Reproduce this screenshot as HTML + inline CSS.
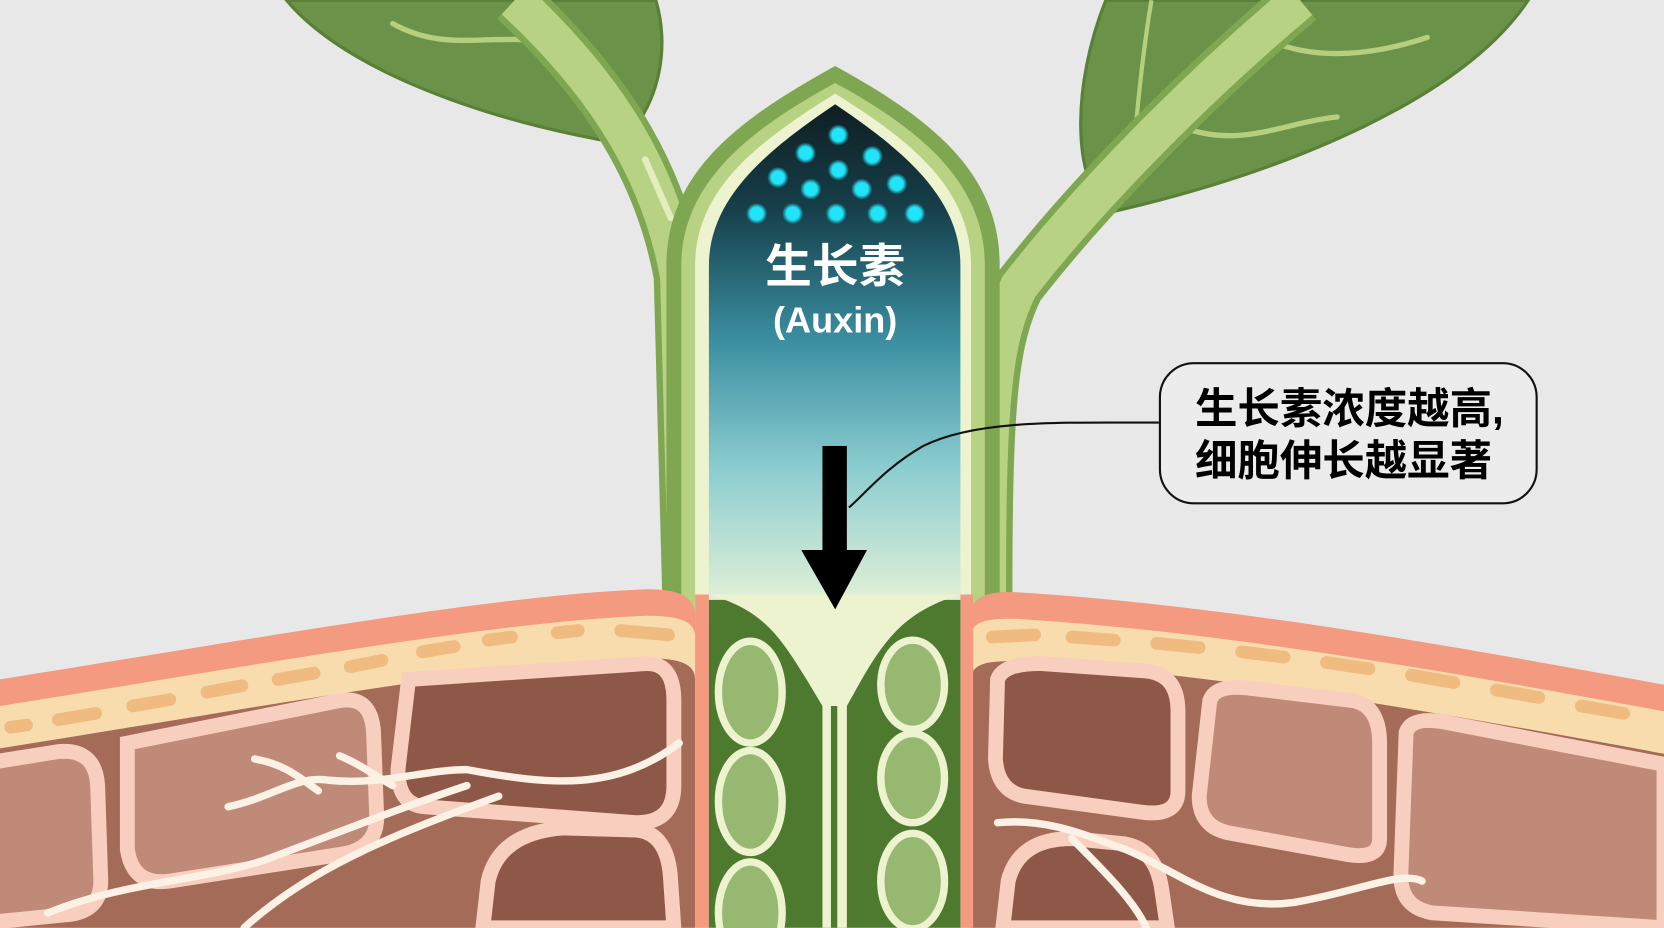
<!DOCTYPE html>
<html><head><meta charset="utf-8"><style>
html,body{margin:0;padding:0;background:#e8e8e8;}
svg{display:block;}
</style></head><body>
<svg width="1664" height="928" viewBox="0 0 1568 874" xmlns="http://www.w3.org/2000/svg">
<defs>
<linearGradient id="g1" x1="0" y1="98" x2="0" y2="590" gradientUnits="userSpaceOnUse">
<stop offset="0" stop-color="#0f1e22"/>
<stop offset="0.2" stop-color="#163f4a"/>
<stop offset="0.45" stop-color="#3a8ea0"/>
<stop offset="0.7" stop-color="#8ccdd0"/>
<stop offset="1" stop-color="#f2f7d8"/>
</linearGradient>
<radialGradient id="dot"><stop offset="0.6" stop-color="#22e4f8"/><stop offset="1" stop-color="#22e4f8" stop-opacity="0"/></radialGradient>
</defs>
<rect width="1568" height="874" fill="#e8e8e8"/>

<!-- left leaf -->
<path d="M270,0 C320,60 440,110 585,135 C625,95 630,40 618,0 Z" fill="#6a9248" stroke="#5a8038" stroke-width="3"/>
<path d="M370,22 C420,50 460,30 520,40" stroke="#b5cf7d" stroke-width="5" fill="none" stroke-linecap="round"/>
<!-- right leaf -->
<path d="M1042,0 C1010,80 1010,170 1045,200 C1220,160 1380,90 1440,0 Z" fill="#6a9248" stroke="#5a8038" stroke-width="3"/>
<path d="M1190,35 C1240,60 1300,50 1345,35" stroke="#b5cf7d" stroke-width="5" fill="none" stroke-linecap="round"/>
<path d="M1115,120 C1170,140 1210,115 1260,110" stroke="#b5cf7d" stroke-width="5" fill="none" stroke-linecap="round"/>
<path d="M1085,0 C1075,60 1070,120 1065,180" stroke="#b5cf7d" stroke-width="4" fill="none"/>

<!-- left stem arm -->
<path d="M485,0 C560,70 620,150 640,260 L648,560" stroke="#7fa650" stroke-width="48" fill="none"/>
<path d="M485,0 C560,70 620,150 640,260 L648,560" stroke="#b8d283" stroke-width="36" fill="none"/>
<path d="M608,150 L632,205" stroke="#e3edc0" stroke-width="6" stroke-linecap="round"/>
<!-- right stem arm -->
<path d="M1225,0 C1130,80 1030,180 960,270 C935,320 930,380 930,560" stroke="#7fa650" stroke-width="48" fill="none"/>
<path d="M1225,0 C1130,80 1030,180 960,270 C935,320 930,380 930,560" stroke="#b8d283" stroke-width="36" fill="none"/>

<!-- central shoot -->
<path d="M628,590 L628,250 C628,160 700,110 787,62 C874,110 942,160 942,250 L942,590 Z" fill="#7fa650"/>
<path d="M642,590 L642,250 C642,170 710,120 787,78 C864,120 928,170 928,250 L928,590 Z" fill="#b8d283"/>
<path d="M655,590 L655,250 C655,175 720,130 787,88 C854,130 915,175 915,250 L915,590 Z" fill="#eef3cf"/>
<path d="M668,590 L668,250 C668,185 725,140 787,98 C849,140 905,185 905,250 L905,590 Z" fill="url(#g1)"/>

<!-- dots -->
<g fill="url(#dot)">
<circle cx="790" cy="127" r="10"/>
<circle cx="759" cy="144" r="10"/><circle cx="822" cy="147" r="10"/>
<circle cx="790" cy="160" r="10"/>
<circle cx="733" cy="167" r="10"/><circle cx="764" cy="178" r="10"/><circle cx="812" cy="178" r="10"/><circle cx="845" cy="173" r="10"/>
<circle cx="713" cy="201" r="10"/><circle cx="747" cy="201" r="10"/><circle cx="788" cy="201" r="10"/><circle cx="827" cy="201" r="10"/><circle cx="862" cy="201" r="10"/>
</g>
<text x="787" y="266" text-anchor="middle" font-family="'Liberation Sans','Noto Sans CJK SC',sans-serif" font-weight="bold" font-size="44" fill="#fff">生长素</text>
<text x="787" y="313" text-anchor="middle" font-family="'Liberation Sans','Noto Sans CJK SC',sans-serif" font-weight="bold" font-size="34" fill="#fff">(Auxin)</text>

<!-- soil left -->
<path d="M0,640 C250,600 470,560 610,555 C640,555 655,562 655,580 L655,874 L0,874 Z" fill="#f39a80"/>
<path d="M0,665 C250,625 470,585 610,580 C640,580 655,585 655,600 L655,874 L0,874 Z" fill="#f8dcae"/>
<path d="M0,705 C250,665 470,625 610,620 C640,620 655,625 655,640 L655,874 L0,874 Z" fill="#a46c58"/>
<g stroke="#f0bb80" stroke-width="12" stroke-linecap="round" fill="none">
<path d="M10,685 L25,683"/><path d="M55,678 L90,672"/><path d="M125,665 L160,659"/><path d="M195,652 L228,646"/><path d="M262,640 L296,634"/><path d="M330,628 L360,622"/><path d="M398,614 L428,609"/><path d="M460,603 L482,600"/><path d="M525,596 L545,594"/><path d="M585,594 L630,598"/>
</g>
<!-- soil right -->
<path d="M915,580 C915,562 930,556 960,558 C1150,570 1350,605 1568,645 L1568,874 L915,874 Z" fill="#f39a80"/>
<path d="M915,600 C915,585 930,582 960,583 C1150,595 1350,630 1568,670 L1568,874 L915,874 Z" fill="#f8dcae"/>
<path d="M915,640 C915,625 930,622 960,623 C1150,635 1350,670 1568,710 L1568,874 L915,874 Z" fill="#a46c58"/>
<g stroke="#f0bb80" stroke-width="12" stroke-linecap="round" fill="none">
<path d="M935,600 L975,598"/><path d="M1010,600 L1050,603"/><path d="M1090,606 L1130,610"/><path d="M1170,614 L1210,619"/><path d="M1250,624 L1290,630"/><path d="M1330,636 L1370,643"/><path d="M1410,650 L1450,657"/><path d="M1490,665 L1530,672"/>
</g>

<!-- cells left -->
<g stroke="#f8cfbf" stroke-width="14">
<path d="M-20,720 L55,708 Q90,705 92,740 L95,830 Q95,860 60,862 L-20,870 Z" fill="#c08a78"/>
<path d="M120,700 L320,660 Q350,655 352,690 L355,770 Q355,800 320,805 L160,830 Q125,835 120,800 Z" fill="#c08a78"/>
<path d="M385,640 L610,625 Q635,625 635,660 L635,740 Q635,775 600,775 L400,760 Q375,758 375,725 Z" fill="#8e5848"/>
<path d="M455,874 L460,830 Q470,785 530,780 L600,782 Q630,785 632,830 L635,874 Z" fill="#8e5848"/>
</g>
<!-- cells right -->
<g stroke="#f8cfbf" stroke-width="14">
<path d="M940,640 Q945,625 980,625 L1080,632 Q1110,635 1110,670 L1110,745 Q1110,770 1075,765 L965,750 Q940,745 938,715 Z" fill="#8e5848"/>
<path d="M1140,660 Q1145,645 1175,648 L1275,660 Q1300,665 1300,700 L1300,790 Q1300,810 1270,805 L1160,785 Q1130,780 1130,750 Z" fill="#c08a78"/>
<path d="M1325,690 Q1330,675 1360,680 L1568,720 L1568,874 L1350,860 Q1320,855 1320,825 Z" fill="#c08a78"/>
<path d="M945,874 L950,830 Q960,790 1010,790 L1060,795 Q1090,800 1095,840 L1100,874 Z" fill="#8e5848"/>
</g>
<!-- roots -->
<g stroke="#fbf1e4" stroke-width="7" fill="none" stroke-linecap="round">
<path d="M215,760 C260,750 280,730 310,735 C360,740 400,725 440,725 C520,740 580,745 640,700"/>
<path d="M240,715 C270,720 285,735 300,745"/>
<path d="M320,712 C340,720 360,735 370,740"/>
<path d="M45,860 C120,830 190,830 250,810 C330,780 380,760 440,740"/>
<path d="M230,874 C290,820 360,790 470,750"/>
<path d="M940,775 C990,770 1030,790 1060,800 C1110,820 1150,860 1220,850 C1280,840 1320,820 1340,830"/>
<path d="M1010,790 C1040,820 1070,850 1080,874"/>
</g>

<!-- lower central column -->
<rect x="655" y="560" width="13" height="314" fill="#f39a80"/>
<rect x="905" y="560" width="12" height="314" fill="#f39a80"/>
<path d="M668,565 L905,565 L905,874 L668,874 Z" fill="#4e7a30"/>
<path d="M668,560 C720,575 735,600 760,640 L775,665 L775,874 L798,874 L798,665 L812,640 C835,600 855,575 905,560 Z" fill="#eef3cf"/>
<path d="M786,665 L786,874" stroke="#4e7a30" stroke-width="6"/>
<g fill="#96b870" stroke="#eef3cf" stroke-width="7">
<ellipse cx="707" cy="652" rx="30" ry="48"/>
<ellipse cx="707" cy="755" rx="30" ry="48"/>
<ellipse cx="707" cy="860" rx="30" ry="48"/>
<ellipse cx="860" cy="645" rx="30" ry="42"/>
<ellipse cx="860" cy="733" rx="30" ry="42"/>
<ellipse cx="860" cy="830" rx="30" ry="45"/>
</g>

<!-- arrow -->
<rect x="775" y="420" width="23" height="102" fill="#000"/>
<path d="M755,518 L817,518 L787,574 Z" fill="#000"/>

<!-- connector -->
<path d="M1092,398 C1000,398 920,395 870,420 C835,440 815,465 800,478" stroke="#111" stroke-width="2" fill="none"/>
<!-- callout -->
<rect x="1093" y="342" width="355" height="132" rx="32" fill="#ececec" stroke="#111" stroke-width="2"/>
<g font-family="'Liberation Sans','Noto Sans CJK SC',sans-serif" font-weight="bold" font-size="40" fill="#000">
<text x="1126" y="399">生长素浓度越高,</text>
<text x="1126" y="448">细胞伸长越显著</text>
</g>
</svg>
</body></html>
